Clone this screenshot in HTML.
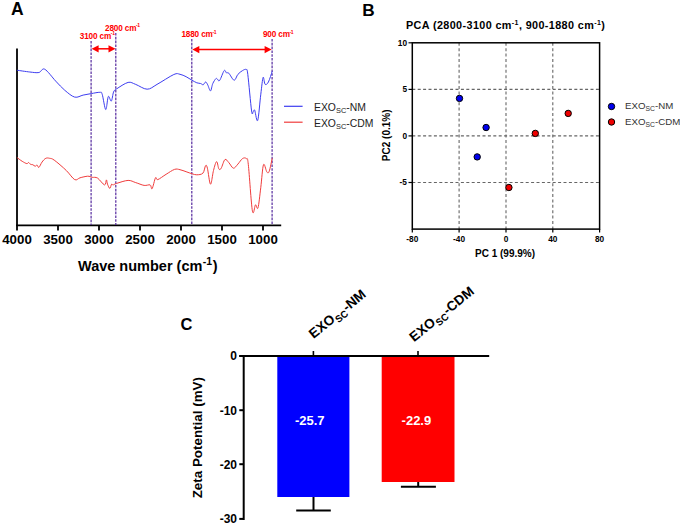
<!DOCTYPE html>
<html><head><meta charset="utf-8"><style>
html,body{margin:0;padding:0;background:#fff;width:680px;height:525px;overflow:hidden}
svg{display:block}
text{font-family:"Liberation Sans", sans-serif}
</style></head><body>
<svg width="680" height="525" viewBox="0 0 680 525">
<text x="11" y="15" font-size="17.5" font-weight="bold">A</text>
<line x1="17" y1="48.5" x2="17" y2="226" stroke="#000" stroke-width="1.8"/>
<line x1="16.1" y1="225.3" x2="281.2" y2="225.3" stroke="#000" stroke-width="1.8"/>
<line x1="17.0" y1="225" x2="17.0" y2="230.5" stroke="#000" stroke-width="1.8"/>
<text x="17.0" y="244.2" font-size="13.3" font-weight="bold" text-anchor="middle">4000</text>
<line x1="58.0" y1="225" x2="58.0" y2="230.5" stroke="#000" stroke-width="1.8"/>
<text x="58.0" y="244.2" font-size="13.3" font-weight="bold" text-anchor="middle">3500</text>
<line x1="99.0" y1="225" x2="99.0" y2="230.5" stroke="#000" stroke-width="1.8"/>
<text x="99.0" y="244.2" font-size="13.3" font-weight="bold" text-anchor="middle">3000</text>
<line x1="140.0" y1="225" x2="140.0" y2="230.5" stroke="#000" stroke-width="1.8"/>
<text x="140.0" y="244.2" font-size="13.3" font-weight="bold" text-anchor="middle">2500</text>
<line x1="181.0" y1="225" x2="181.0" y2="230.5" stroke="#000" stroke-width="1.8"/>
<text x="181.0" y="244.2" font-size="13.3" font-weight="bold" text-anchor="middle">2000</text>
<line x1="222.0" y1="225" x2="222.0" y2="230.5" stroke="#000" stroke-width="1.8"/>
<text x="222.0" y="244.2" font-size="13.3" font-weight="bold" text-anchor="middle">1500</text>
<line x1="263.0" y1="225" x2="263.0" y2="230.5" stroke="#000" stroke-width="1.8"/>
<text x="263.0" y="244.2" font-size="13.3" font-weight="bold" text-anchor="middle">1000</text>
<text x="78" y="270.7" font-size="14.5" font-weight="bold">Wave number (cm<tspan dy="-5.5" font-size="10.5" dx="0.3">-1</tspan><tspan dy="5.5" dx="0.8">)</tspan></text>
<line x1="91.1" y1="41.0" x2="91.1" y2="225" stroke="#552a9e" stroke-width="1.2" stroke-dasharray="2.6,1.2"/>
<line x1="115.8" y1="33.0" x2="115.8" y2="225" stroke="#552a9e" stroke-width="1.2" stroke-dasharray="2.6,1.2"/>
<line x1="191.8" y1="39.0" x2="191.8" y2="225" stroke="#552a9e" stroke-width="1.2" stroke-dasharray="2.6,1.2"/>
<line x1="272.1" y1="39.0" x2="272.1" y2="225" stroke="#552a9e" stroke-width="1.2" stroke-dasharray="2.6,1.2"/>
<line x1="97.6" y1="48.8" x2="109.5" y2="48.8" stroke="#ff0000" stroke-width="1.5"/><polygon points="91.6,48.8 98.6,45.2 98.6,52.4" fill="#ff0000"/><polygon points="115.5,48.8 108.5,45.2 108.5,52.4" fill="#ff0000"/>
<line x1="198.3" y1="49.6" x2="265.6" y2="49.6" stroke="#ff0000" stroke-width="1.5"/><polygon points="192.3,49.6 199.3,46.0 199.3,53.2" fill="#ff0000"/><polygon points="271.6,49.6 264.6,46.0 264.6,53.2" fill="#ff0000"/>
<text x="79.8" y="38.5" font-size="8.2" font-weight="bold" fill="#ff0000" letter-spacing="-0.15">3100 cm<tspan dy="-3.2" dx="-0.3" font-size="5" letter-spacing="-0.3">-1</tspan></text>
<text x="105.0" y="30.5" font-size="8.2" font-weight="bold" fill="#ff0000" letter-spacing="-0.15">2800 cm<tspan dy="-3.2" dx="-0.3" font-size="5" letter-spacing="-0.3">-1</tspan></text>
<text x="181.4" y="37.1" font-size="8.2" font-weight="bold" fill="#ff0000" letter-spacing="-0.15">1880 cm<tspan dy="-3.2" dx="-0.3" font-size="5" letter-spacing="-0.3">-1</tspan></text>
<text x="262.9" y="37.1" font-size="8.2" font-weight="bold" fill="#ff0000" letter-spacing="-0.15">900 cm<tspan dy="-3.2" dx="-0.3" font-size="5" letter-spacing="-0.3">-1</tspan></text>
<path d="M16.9,70.2 C19.0,70.5 26.1,71.6 29.8,72.0 C33.5,72.4 36.4,73.0 38.9,72.5 C41.4,72.0 41.9,67.8 44.7,69.2 C47.5,70.6 52.4,77.6 55.7,81.1 C59.1,84.6 61.6,87.6 64.8,90.3 C68.0,93.0 71.7,96.3 74.7,97.1 C77.8,97.9 80.3,95.7 83.1,95.1 C85.8,94.5 88.4,94.1 91.2,93.6 C94.0,93.1 98.1,92.2 99.9,92.3 C101.7,92.4 101.2,91.4 102.2,94.3 C103.2,97.2 104.7,109.1 105.7,109.5 C106.7,109.9 107.4,97.9 108.3,96.5 C109.2,95.1 110.4,101.8 111.3,101.1 C112.2,100.3 112.7,94.0 113.6,92.0 C114.5,90.0 114.2,90.5 116.6,88.9 C119.0,87.3 124.9,83.2 128.1,82.4 C131.3,81.7 132.5,83.3 135.7,84.4 C138.9,85.5 143.5,89.2 147.1,89.2 C150.7,89.2 152.6,86.9 157.0,84.4 C161.4,82.0 170.0,76.2 173.8,74.5 C177.6,72.8 177.9,73.9 180.0,74.3 C182.1,74.7 184.1,75.7 186.1,76.7 C188.1,77.7 190.1,79.2 191.9,80.2 C193.7,81.2 195.4,82.2 196.8,82.8 C198.2,83.3 199.5,83.2 200.6,83.5 C201.7,83.8 202.4,85.0 203.2,84.8 C204.0,84.5 204.8,82.0 205.6,82.0 C206.3,82.0 206.9,83.3 207.7,84.8 C208.5,86.3 209.7,91.1 210.5,90.9 C211.3,90.7 211.9,85.5 212.8,83.5 C213.7,81.5 215.1,79.5 215.8,78.7 C216.6,78.0 216.7,78.7 217.3,79.0 C217.9,79.3 218.4,81.9 219.6,80.5 C220.8,79.1 223.0,71.9 224.2,70.6 C225.3,69.3 225.7,72.5 226.5,72.9 C227.3,73.3 227.5,72.0 228.8,73.2 C230.1,74.4 232.6,80.0 234.1,80.2 C235.6,80.4 236.5,76.0 237.9,74.4 C239.3,72.8 241.1,71.4 242.5,70.6 C243.9,69.8 245.4,68.9 246.3,69.5 C247.2,70.1 246.9,67.5 247.8,74.4 C248.7,81.3 250.7,104.8 251.6,111.0 C252.5,117.2 252.7,111.8 253.2,111.7 C253.7,111.6 253.9,108.8 254.7,110.2 C255.4,111.7 256.7,123.1 257.7,120.4 C258.7,117.7 259.9,101.4 260.8,94.2 C261.7,87.0 262.4,79.1 263.1,77.4 C263.8,75.8 264.2,83.5 265.1,84.3 C266.0,85.1 267.2,84.2 268.4,82.0 C269.6,79.8 271.6,73.1 272.2,71.3" fill="none" stroke="#3d3df0" stroke-width="1.0"/>
<path d="M16.9,157.5 C17.8,158.1 20.5,160.3 22.2,161.3 C23.9,162.3 25.7,163.4 26.8,163.6 C27.9,163.8 28.0,162.4 28.6,162.5 C29.2,162.6 29.9,164.0 30.6,164.4 C31.3,164.8 32.0,164.4 32.8,164.7 C33.5,165.0 34.4,166.1 35.1,166.2 C35.8,166.3 36.5,164.9 37.1,165.1 C37.7,165.3 38.1,167.9 38.9,167.4 C39.7,166.9 40.9,163.6 42.0,162.1 C43.1,160.6 44.5,158.9 45.8,158.3 C47.1,157.7 48.2,158.0 49.6,158.3 C51.0,158.6 51.4,158.1 54.2,160.1 C57.0,162.1 62.9,167.2 66.3,170.5 C69.7,173.8 72.4,178.4 74.7,179.6 C77.0,180.8 77.8,178.4 80.0,177.8 C82.2,177.2 85.7,176.3 87.7,176.2 C89.7,176.1 90.6,177.0 92.2,177.3 C93.8,177.6 95.5,176.8 97.6,178.1 C99.6,179.4 103.0,184.6 104.5,184.9 C106.0,185.2 105.9,180.0 106.4,179.9 C106.9,179.8 106.9,182.8 107.5,184.2 C108.1,185.6 109.1,188.4 109.8,188.4 C110.5,188.4 111.0,184.8 111.6,184.2 C112.1,183.6 112.3,185.0 113.1,184.9 C113.9,184.8 114.1,184.2 116.6,183.4 C119.1,182.7 124.9,180.5 128.1,180.4 C131.3,180.3 133.0,181.8 135.7,182.6 C138.4,183.4 141.7,185.0 144.1,185.4 C146.5,185.8 148.8,184.4 150.1,184.9 C151.4,185.4 151.2,189.9 152.1,188.7 C153.0,187.5 154.6,179.3 155.5,177.8 C156.4,176.3 156.0,180.2 157.8,179.6 C159.6,179.0 163.3,176.0 166.1,174.3 C168.9,172.6 172.2,170.2 174.5,169.4 C176.8,168.6 178.1,169.3 180.0,169.7 C181.9,170.1 184.1,171.0 186.1,171.7 C188.1,172.4 190.4,173.3 192.2,173.8 C194.0,174.3 195.0,174.9 196.8,174.8 C198.6,174.7 201.4,174.7 202.9,173.2 C204.4,171.7 204.8,166.4 205.6,165.6 C206.3,164.8 206.6,165.1 207.4,168.2 C208.2,171.3 209.5,183.8 210.5,184.2 C211.5,184.6 212.5,174.3 213.5,170.5 C214.5,166.7 215.7,161.8 216.6,161.6 C217.5,161.3 218.1,167.9 218.9,169.0 C219.7,170.1 220.2,169.8 221.2,168.2 C222.2,166.6 223.7,160.4 225.0,159.5 C226.3,158.6 227.4,161.2 228.8,162.6 C230.2,164.0 231.9,167.9 233.4,168.2 C234.9,168.4 236.4,165.7 237.9,164.1 C239.4,162.5 241.1,159.5 242.5,158.6 C243.9,157.7 245.3,157.6 246.3,158.6 C247.3,159.6 247.3,155.7 248.3,164.4 C249.3,173.1 251.2,204.2 252.4,210.9 C253.6,217.6 254.6,205.3 255.5,204.8 C256.4,204.3 257.1,210.7 258.0,207.8 C258.9,204.9 259.9,194.5 260.8,187.3 C261.7,180.1 262.5,167.2 263.5,164.7 C264.5,162.1 265.9,170.9 266.9,172.0 C267.8,173.1 268.3,173.6 269.2,171.3 C270.1,169.0 271.7,160.5 272.2,158.3" fill="none" stroke="#f03c3c" stroke-width="1.0"/>
<line x1="284" y1="106.3" x2="302.6" y2="106.3" stroke="#3d3df0" stroke-width="1.2"/>
<line x1="284" y1="122.2" x2="302.6" y2="122.2" stroke="#f03c3c" stroke-width="1.2"/>
<text x="314" y="110.6" font-size="10.4" fill="#222">EXO<tspan dy="2" font-size="7.4">SC</tspan><tspan dy="-2">-NM</tspan></text>
<text x="314" y="126.5" font-size="10.4" fill="#222">EXO<tspan dy="2" font-size="7.4">SC</tspan><tspan dy="-2">-CDM</tspan></text>
<text x="362.2" y="15.5" font-size="17.2" font-weight="bold">B</text>
<text x="406" y="28.8" font-size="10.8" font-weight="bold" letter-spacing="0.39">PCA (2800-3100 cm<tspan dy="-4" font-size="7">-1</tspan><tspan dy="4">, 900-1880 cm</tspan><tspan dy="-4" font-size="7">-1</tspan><tspan dy="4">)</tspan></text>
<line x1="459.1" y1="42.8" x2="459.1" y2="229.1" stroke="#666" stroke-width="1.1" stroke-dasharray="3,2.4"/>
<line x1="506.0" y1="42.8" x2="506.0" y2="229.1" stroke="#666" stroke-width="1.1" stroke-dasharray="3,2.4"/>
<line x1="552.8" y1="42.8" x2="552.8" y2="229.1" stroke="#666" stroke-width="1.1" stroke-dasharray="3,2.4"/>
<line x1="412.3" y1="89.4" x2="599.6" y2="89.4" stroke="#666" stroke-width="1.1" stroke-dasharray="3,2.4"/>
<line x1="412.3" y1="135.9" x2="599.6" y2="135.9" stroke="#666" stroke-width="1.1" stroke-dasharray="3,2.4"/>
<line x1="412.3" y1="182.5" x2="599.6" y2="182.5" stroke="#666" stroke-width="1.1" stroke-dasharray="3,2.4"/>
<rect x="412.3" y="42.8" width="187.3" height="186.3" fill="none" stroke="#000" stroke-width="1.5"/>
<line x1="408.5" y1="42.8" x2="412.3" y2="42.8" stroke="#000" stroke-width="1.2"/>
<text x="407" y="45.5" font-size="8.3" font-weight="bold" text-anchor="end">10</text>
<line x1="408.5" y1="89.4" x2="412.3" y2="89.4" stroke="#000" stroke-width="1.2"/>
<text x="407" y="92.1" font-size="8.3" font-weight="bold" text-anchor="end">5</text>
<line x1="408.5" y1="135.9" x2="412.3" y2="135.9" stroke="#000" stroke-width="1.2"/>
<text x="407" y="138.6" font-size="8.3" font-weight="bold" text-anchor="end">0</text>
<line x1="408.5" y1="182.5" x2="412.3" y2="182.5" stroke="#000" stroke-width="1.2"/>
<text x="407" y="185.2" font-size="8.3" font-weight="bold" text-anchor="end">-5</text>
<line x1="412.3" y1="229.1" x2="412.3" y2="232.5" stroke="#000" stroke-width="1.2"/>
<text x="412.3" y="241.8" font-size="8.3" font-weight="bold" text-anchor="middle">-80</text>
<line x1="459.1" y1="229.1" x2="459.1" y2="232.5" stroke="#000" stroke-width="1.2"/>
<text x="459.1" y="241.8" font-size="8.3" font-weight="bold" text-anchor="middle">-40</text>
<line x1="506.0" y1="229.1" x2="506.0" y2="232.5" stroke="#000" stroke-width="1.2"/>
<text x="506.0" y="241.8" font-size="8.3" font-weight="bold" text-anchor="middle">0</text>
<line x1="552.8" y1="229.1" x2="552.8" y2="232.5" stroke="#000" stroke-width="1.2"/>
<text x="552.8" y="241.8" font-size="8.3" font-weight="bold" text-anchor="middle">40</text>
<line x1="599.6" y1="229.1" x2="599.6" y2="232.5" stroke="#000" stroke-width="1.2"/>
<text x="599.6" y="241.8" font-size="8.3" font-weight="bold" text-anchor="middle">80</text>
<text x="505" y="257" font-size="10" font-weight="bold" text-anchor="middle">PC 1 (99.9%)</text>
<text x="0" y="0" font-size="10" font-weight="bold" text-anchor="middle" transform="translate(389.6,135.3) rotate(-90)">PC2 (0.1%)</text>
<circle cx="459.5" cy="98.4" r="3.2" fill="#0000ee" stroke="#000" stroke-width="1"/>
<circle cx="486.1" cy="127.5" r="3.2" fill="#0000ee" stroke="#000" stroke-width="1"/>
<circle cx="477.2" cy="156.9" r="3.2" fill="#0000ee" stroke="#000" stroke-width="1"/>
<circle cx="568.2" cy="113.4" r="3.2" fill="#ee0000" stroke="#000" stroke-width="1"/>
<circle cx="535.3" cy="133.4" r="3.2" fill="#ee0000" stroke="#000" stroke-width="1"/>
<circle cx="508.9" cy="187.5" r="3.2" fill="#ee0000" stroke="#000" stroke-width="1"/>
<circle cx="611.5" cy="106.5" r="3.2" fill="#0000ee" stroke="#000" stroke-width="1"/>
<circle cx="611.5" cy="122" r="3.2" fill="#ee0000" stroke="#000" stroke-width="1"/>
<text x="625" y="109.1" font-size="9.7" fill="#333">EXO<tspan dy="2.3" font-size="6.8">SC</tspan><tspan dy="-2.3">-NM</tspan></text>
<text x="625" y="124.7" font-size="9.7" fill="#333">EXO<tspan dy="2.3" font-size="6.8">SC</tspan><tspan dy="-2.3">-CDM</tspan></text>
<text x="180.4" y="329.7" font-size="16.5" font-weight="bold">C</text>
<rect x="277.3" y="357" width="72.1" height="140" fill="#0000ff"/>
<rect x="381.7" y="357" width="72.8" height="125" fill="#ff0000"/>
<line x1="243.7" y1="355" x2="243.7" y2="520" stroke="#000" stroke-width="2"/>
<line x1="239.3" y1="356" x2="489.2" y2="356" stroke="#000" stroke-width="2"/>
<line x1="239.3" y1="356.0" x2="243.7" y2="356.0" stroke="#000" stroke-width="2"/>
<text x="237" y="360.3" font-size="12" font-weight="bold" text-anchor="end">0</text>
<line x1="239.3" y1="410.2" x2="243.7" y2="410.2" stroke="#000" stroke-width="2"/>
<text x="237" y="414.5" font-size="12" font-weight="bold" text-anchor="end">-10</text>
<line x1="239.3" y1="464.2" x2="243.7" y2="464.2" stroke="#000" stroke-width="2"/>
<text x="237" y="468.5" font-size="12" font-weight="bold" text-anchor="end">-20</text>
<line x1="239.3" y1="518.9" x2="243.7" y2="518.9" stroke="#000" stroke-width="2"/>
<text x="237" y="523.2" font-size="12" font-weight="bold" text-anchor="end">-30</text>
<line x1="313.4" y1="351" x2="313.4" y2="356" stroke="#000" stroke-width="1.6"/>
<line x1="418.0" y1="351" x2="418.0" y2="356" stroke="#000" stroke-width="1.6"/>
<line x1="313.5" y1="497" x2="313.5" y2="510.6" stroke="#000" stroke-width="2"/>
<line x1="296.2" y1="510.6" x2="330.8" y2="510.6" stroke="#000" stroke-width="2"/>
<line x1="418.2" y1="482" x2="418.2" y2="486.8" stroke="#000" stroke-width="2"/>
<line x1="400.9" y1="486.8" x2="435.9" y2="486.8" stroke="#000" stroke-width="2"/>
<text x="309.7" y="425" font-size="13" font-weight="bold" fill="#fff" text-anchor="middle">-25.7</text>
<text x="416.4" y="425" font-size="13" font-weight="bold" fill="#fff" text-anchor="middle">-22.9</text>
<text x="0" y="0" font-size="13.4" font-weight="bold" text-anchor="middle" transform="translate(201.6,437.7) rotate(-90)">Zeta Potential (mV)</text>
<text x="0" y="0" font-size="13.6" font-weight="bold" transform="translate(313.6,339) rotate(-39)">EXO<tspan dy="3.4" dx="0.5" font-size="9.8">SC</tspan><tspan dy="-3.4">-NM</tspan></text>
<text x="0" y="0" font-size="13.6" font-weight="bold" transform="translate(414.1,342.2) rotate(-39)">EXO<tspan dy="3.4" dx="0.5" font-size="9.8">SC</tspan><tspan dy="-3.4">-CDM</tspan></text>
</svg>
</body></html>
